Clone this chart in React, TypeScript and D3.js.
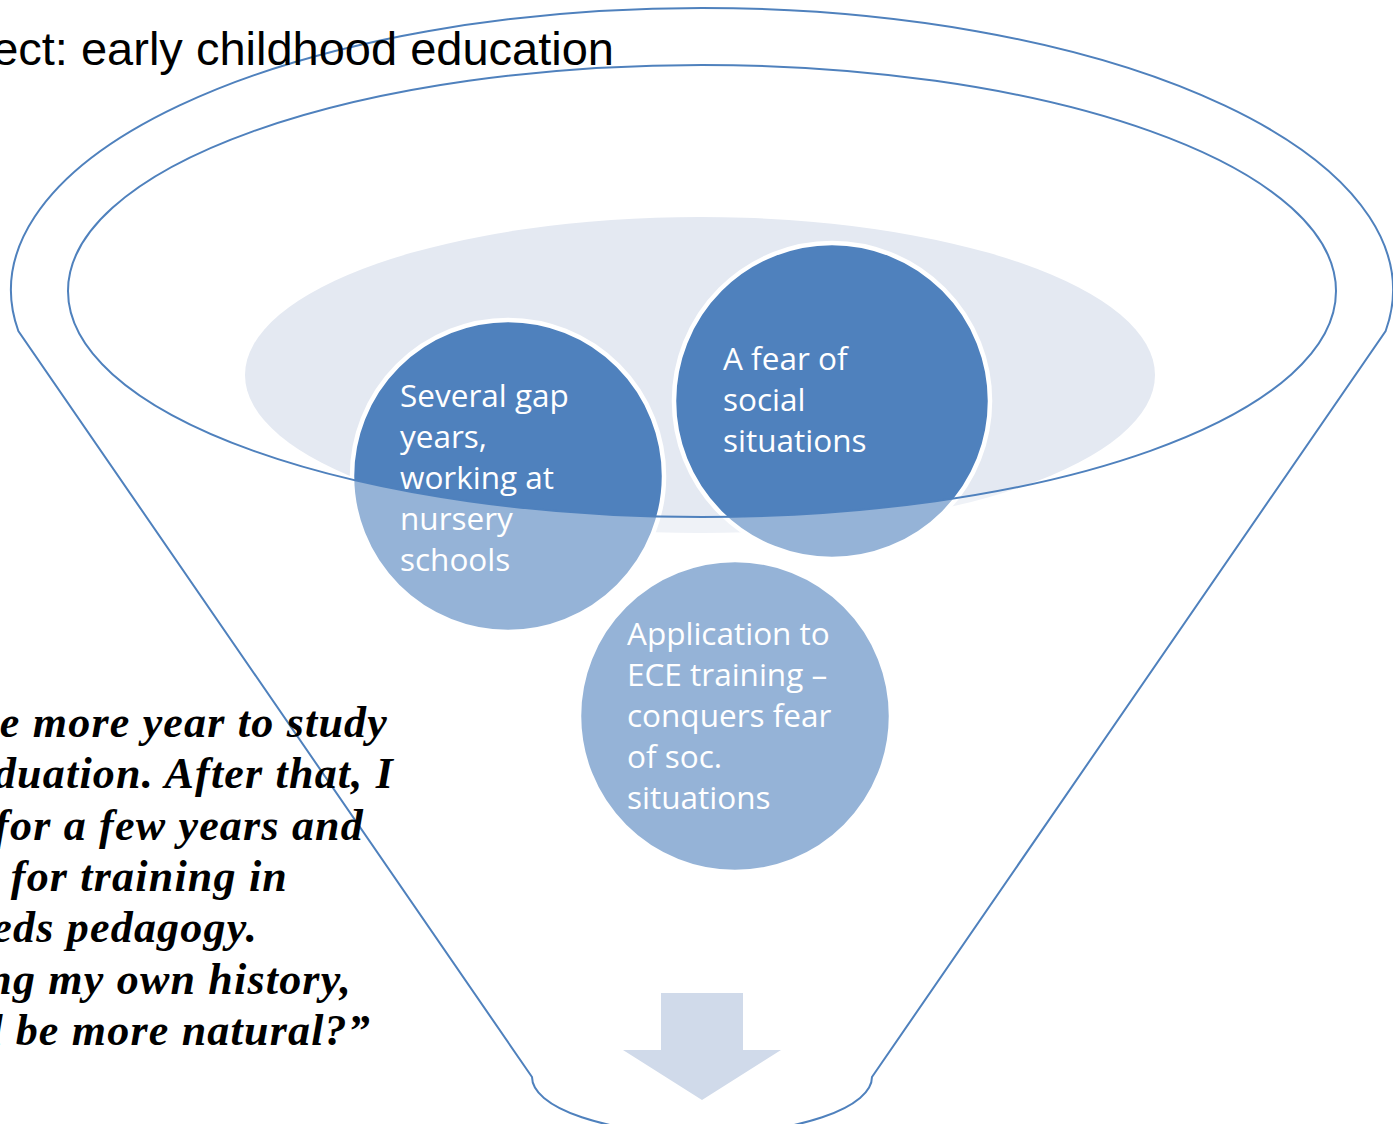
import React from 'react'
import * as d3 from 'd3'

// texts
const titleText = 'ect: early childhood education'
const quoteLines = [
  'e more year to study',
  'duation. After that, I',
  'for a few years and',
  'y for training in',
  'eds pedagogy.',
  'ng my own history,',
  'd be more natural?\u201d',
]
const bubbleLabels = [
  ['Several gap', 'years,', 'working at', 'nursery', 'schools'],
  ['A fear of', 'social', 'situations'],
  ['Application to', 'ECE training \u2013', 'conquers fear', 'of soc.', 'situations'],
]

const W = 1393
const H = 1124
const blue = '#4F81BD'

// funnel geometry (px)
const rim = { cx: 702, cy: 290, rx: 691, ry: 282, kinkY: 331 }
const mouth = { cx: 702, cy: 291, rx: 634, ry: 226 }
const neck = { cx: 702, y: 1077, rx: 170, ry: 57 }
const bubbles = [
  { cx: 508, cy: 476, r: 156, tx: 400, ty: 407 },
  { cx: 832, cy: 401, r: 158, tx: 723, ty: 370 },
  { cx: 735, cy: 716, r: 156, tx: 627, ty: 645 },
]
const quoteRight = [388, 394, 364, 288, 258, 352, 371]

function funnelPath() {
  const dy = rim.kinkY - rim.cy
  const dx = rim.rx * Math.sqrt(1 - (dy / rim.ry) ** 2)
  const l = rim.cx - dx, r = rim.cx + dx
  let p = `M${l},${rim.kinkY}`
  p += `A${rim.rx},${rim.ry} 0 1 1 ${r},${rim.kinkY}`
  p += `L${neck.cx + neck.rx},${neck.y}`
  p += `A${neck.rx},${neck.ry} 0 0 1 ${neck.cx - neck.rx},${neck.y}Z`
  // inner mouth (hole)
  const ml = mouth.cx - mouth.rx, mr = mouth.cx + mouth.rx
  p += `M${ml},${mouth.cy}A${mouth.rx},${mouth.ry} 0 1 0 ${mr},${mouth.cy}`
  p += `A${mouth.rx},${mouth.ry} 0 1 0 ${ml},${mouth.cy}Z`
  return p
}

function arrowPath() {
  const p = d3.path()
  p.moveTo(661, 993)
  p.lineTo(743, 993)
  p.lineTo(743, 1050)
  p.lineTo(781, 1050)
  p.lineTo(702, 1100)
  p.lineTo(623, 1050)
  p.lineTo(661, 1050)
  p.closePath()
  return p.toString()
}

export default function App() {
  const lineH = 41
  const qy = d3.scaleLinear().domain([0, quoteLines.length - 1]).range([737, 1045])
  return (
    <svg width={W} height={H} style={{ position: 'absolute', left: 0, top: 0, background: '#fff' }}>
      <ellipse cx={700} cy={375} rx={455} ry={158} fill="#E4E9F2" />
      {bubbles.map((b, i) => (
        <circle key={i} cx={b.cx} cy={b.cy} r={b.r} fill={blue} stroke="#fff" strokeWidth={4.5} />
      ))}
      <path d={funnelPath()} fill="#fff" fillOpacity={0.4} fillRule="evenodd" stroke={blue} strokeWidth={2} />
      {bubbles.map((b, i) => (
        <text key={i} fill="#fff" fontFamily="'Open Sans', Lato, sans-serif" fontSize={31.5}>
          {bubbleLabels[i].map((t, j) => (
            <tspan key={j} x={b.tx} y={b.ty + j * lineH}>{t}</tspan>
          ))}
        </text>
      ))}
      <path d={arrowPath()} fill="#D0DAEA" />
      <text x={614} y={65} textAnchor="end" fontFamily="'Liberation Sans', Arial, sans-serif" fontSize={47} fill="#000">
        {titleText}
      </text>
      {quoteLines.map((t, i) => (
        <text key={i} x={quoteRight[i]} y={qy(i)} textAnchor="end" fontFamily="'Liberation Serif', serif"
          fontStyle="italic" fontWeight="bold" fontSize={44} letterSpacing={1.2} fill="#000">
          {t}
        </text>
      ))}
    </svg>
  )
}
